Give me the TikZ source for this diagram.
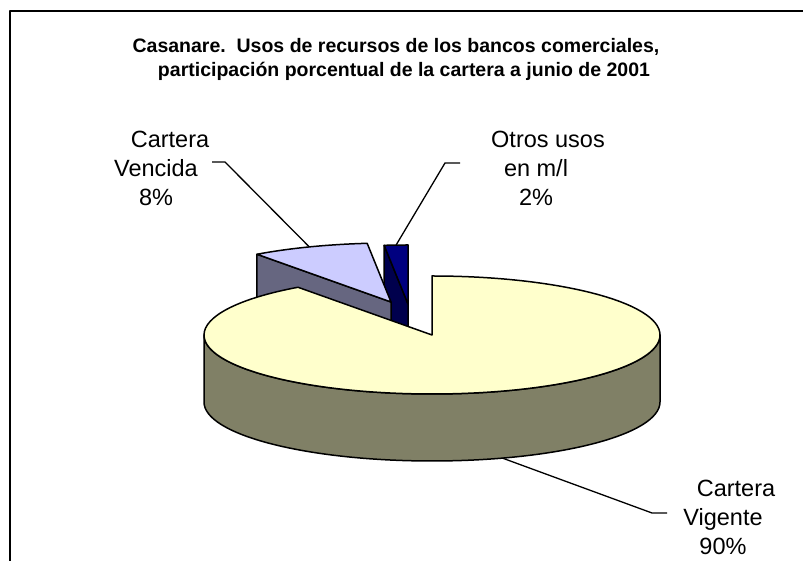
\documentclass[tikz,border=0pt]{standalone}
\usepackage{fontspec}
\setmainfont{Liberation Sans}
\usetikzlibrary{calc}
\definecolor{vigtop}{HTML}{FFFFCC}
\definecolor{vigside}{HTML}{808066}
\definecolor{ventop}{HTML}{CCCCFF}
\definecolor{venside}{HTML}{666680}
\definecolor{ottop}{HTML}{000080}
\definecolor{otside}{HTML}{00004D}
\begin{document}
\begin{tikzpicture}[x=1pt,y=1pt,line join=round,
  pieedge/.style={draw=black,line width=1.5pt},
  leader/.style={draw=black,line width=1.3pt},
  lbl/.style={font=\fontsize{23.5}{29}\selectfont,align=center,inner sep=0pt},
  ttl/.style={font=\fontsize{19.5}{24}\selectfont\bfseries,align=center,inner sep=0pt}]
\useasboundingbox (0,0) rectangle (803,561);
\def\rx{228}\def\ry{59}\def\dd{67}
% frame
\draw[line width=2pt] (10,0) -- (10,550) -- (803,550);
% centres
\coordinate (C) at (432,226);
\coordinate (V) at (391,259);
\coordinate (O) at (408,257);
% Otros usos slice
\coordinate (O0) at ($(O)+(0,\ry)$);
\coordinate (O1) at ($(O)+(96:{\rx} and {\ry})$);
\path[pieedge,fill=otside] (O) -- (O1) -- ($(O1)+(0,-\dd)$) -- ($(O)+(0,-\dd)$) -- cycle;
\path[pieedge,fill=ottop] (O) -- (O0) arc[start angle=90,end angle=96,x radius=\rx,y radius=\ry] -- cycle;
% Cartera vencida slice
\coordinate (V1) at ($(V)+(96:{\rx} and {\ry})$);
\coordinate (V2) at ($(V)+(126:{\rx} and {\ry})$);
\path[pieedge,fill=venside] (V) -- (V2) -- ($(V2)+(0,-\dd)$) -- ($(V)+(0,-\dd)$) -- cycle;
\path[pieedge,fill=ventop] (V) -- (V1) arc[start angle=96,end angle=126,x radius=\rx,y radius=\ry] -- cycle;
% Cartera vigente slice
\coordinate (CL) at ($(C)+(-\rx,0)$);
\coordinate (C0) at ($(C)+(0,\ry)$);
\path[pieedge,fill=vigside] (CL) arc[start angle=180,end angle=360,x radius=\rx,y radius=\ry]
  -- ++(0,-\dd) arc[start angle=0,end angle=-180,x radius=\rx,y radius=\ry] -- cycle;
\path[pieedge,fill=vigtop] (C) -- (C0) arc[start angle=90,end angle=-234,x radius=\rx,y radius=\ry] -- cycle;
% title
\node[ttl] (title) at (404,502) {Casanare.\ \ Usos de recursos de los bancos comerciales,\hspace*{16pt}\\participación porcentual de la cartera a junio de 2001};
% labels
\node[lbl] (venc) at (156,393) {\hspace*{28pt}Cartera\\Vencida\\8\%};
\node[lbl] (otros) at (536,393) {\hspace*{24pt}Otros usos\\en m/l\\2\%};
\node[lbl] (vig) at (723,44) {\hspace*{26pt}Cartera\\Vigente\\90\%};
% leaders
\coordinate (va) at ($(V)+(111:{\rx} and {\ry})$);
\coordinate (vl1) at (212,399);
\coordinate (vl2) at (225,399);
\draw[leader] (vl1) -- (vl2) -- (va);
\coordinate (oa) at ($(O)+(93:{\rx} and {\ry})$);
\coordinate (ol1) at (460,398);
\coordinate (ol2) at (445,398);
\draw[leader] (ol1) -- (ol2) -- (oa);
\coordinate (ga) at ($(C)+(0,-\dd)+(-72:{\rx} and {\ry})$);
\coordinate (gl1) at (652,48);
\coordinate (gl2) at (667,48);
\draw[leader] (ga) -- (gl1) -- (gl2);
\end{tikzpicture}
\end{document}
